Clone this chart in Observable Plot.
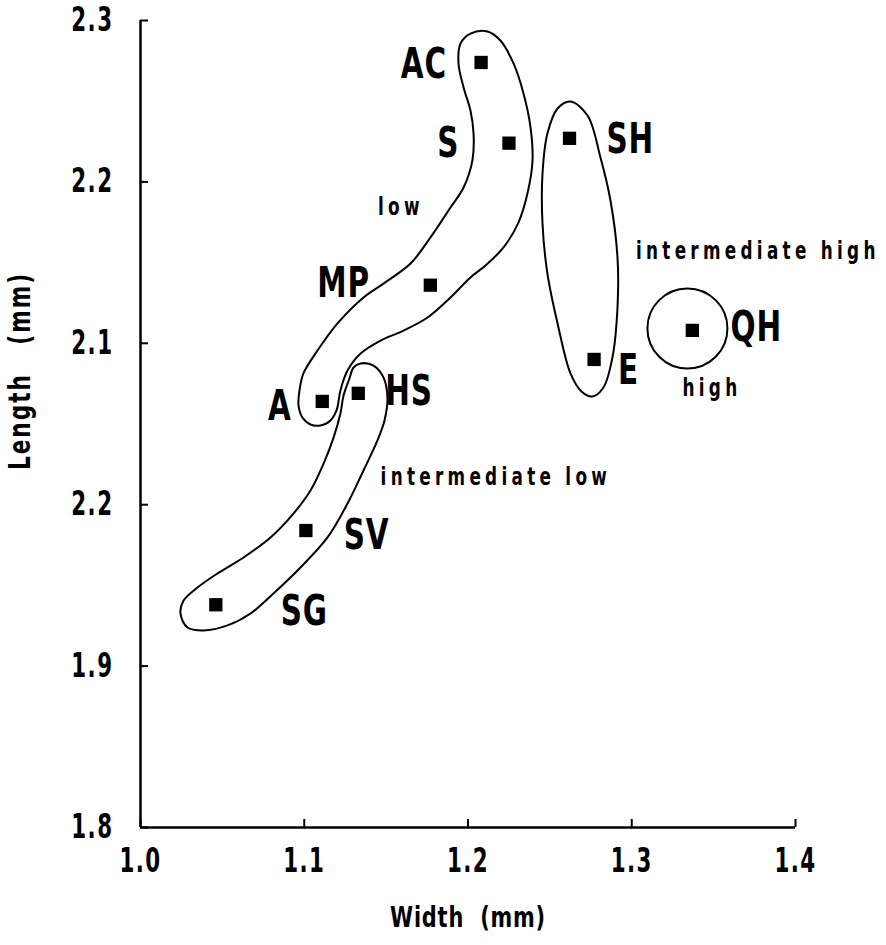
<!DOCTYPE html>
<html>
<head>
<meta charset="utf-8">
<script src="https://cdn.jsdelivr.net/npm/d3@7"></script>
<script src="https://cdn.jsdelivr.net/npm/@observablehq/plot@0.6"></script>
<style>
  html, body { margin: 0; padding: 0; background: #fff; }
</style>
</head>
<body>
<div id="chart"></div>
<script>
// ---- data ----
const sites = ["AC", "S", "SH", "MP", "QH", "E", "A", "HS", "SV", "SG"];
const widthMm = [1.208, 1.225, 1.262, 1.177, 1.337, 1.277, 1.111, 1.133, 1.101, 1.046];
const lengthMm = [2.274, 2.224, 2.227, 2.136, 2.108, 2.090, 2.064, 2.069, 1.984, 1.938];
const siteLabelX = [1.173, 1.188, 1.299, 1.124, 1.376, 1.298, 1.085, 1.164, 1.138, 1.100];
const siteLabelY = [2.273, 2.224, 2.226, 2.137, 2.110, 2.083, 2.061, 2.070, 1.981, 1.934];

const groupNames = ["low", "intermediate low", "intermediate high", "high"];
const groupLabelX = [1.159, 1.217, 1.377, 1.349];
const groupLabelY = [2.184, 2.017, 2.157, 2.072];

// hand-drawn group outlines, [width, length]
const lowOutline = [
  [1.2015, 2.2919], [1.2119, 2.2932], [1.2198, 2.2876], [1.2278, 2.2734], [1.2339, 2.2548],
  [1.2382, 2.2337], [1.2394, 2.2133], [1.2363, 2.1928], [1.2308, 2.1748], [1.2217, 2.1594],
  [1.2107, 2.1482], [1.2015, 2.1408], [1.1893, 2.1284], [1.1753, 2.1160], [1.1606, 2.1079],
  [1.1466, 2.1017], [1.1344, 2.0937], [1.1264, 2.0831], [1.1221, 2.0708], [1.1197, 2.0584],
  [1.1160, 2.0522], [1.1099, 2.0491], [1.1038, 2.0497], [1.0989, 2.0540], [1.0965, 2.0615],
  [1.0971, 2.0708], [1.0995, 2.0813], [1.1081, 2.0955], [1.1203, 2.1123], [1.1362, 2.1284],
  [1.1484, 2.1370], [1.1649, 2.1494], [1.1771, 2.1656], [1.1893, 2.1841], [1.1973, 2.1965],
  [1.2027, 2.2133], [1.2034, 2.2300], [1.2015, 2.2442], [1.1973, 2.2585], [1.1942, 2.2734],
  [1.1954, 2.2857]
];
const intLowOutline = [
  [1.1344, 2.0875], [1.1423, 2.0862], [1.1484, 2.0788], [1.1508, 2.0664], [1.1490, 2.0522],
  [1.1447, 2.0398], [1.1362, 2.0212], [1.1264, 2.0007], [1.1142, 1.9797], [1.0977, 1.9611],
  [1.0812, 1.9450], [1.0672, 1.9326], [1.0531, 1.9252], [1.0385, 1.9221], [1.0287, 1.9239],
  [1.0244, 1.9326], [1.0263, 1.9406], [1.0348, 1.9487], [1.0470, 1.9574], [1.0629, 1.9673],
  [1.0794, 1.9797], [1.0934, 1.9945], [1.1038, 2.0088], [1.1118, 2.0255], [1.1179, 2.0416],
  [1.1221, 2.0565], [1.1240, 2.0677], [1.1276, 2.0782], [1.1301, 2.0850]
];
const intHighOutline = [
  [1.2626, 2.2498], [1.2730, 2.2411], [1.2809, 2.2151], [1.2870, 2.1885], [1.2913, 2.1532],
  [1.2913, 2.1222], [1.2882, 2.0912], [1.2827, 2.0726], [1.2760, 2.0670], [1.2693, 2.0701],
  [1.2626, 2.0813], [1.2547, 2.1123], [1.2485, 2.1432], [1.2455, 2.1742], [1.2455, 2.2052],
  [1.2485, 2.2300], [1.2547, 2.2455]
];
const highCircleCenter = [[1.334, 2.1092]];

const xTicks = [1.0, 1.1, 1.2, 1.3, 1.4];
const xTickLabels = ["1.0", "1.1", "1.2", "1.3", "1.4"];
const yTicks = [1.8, 1.9, 2.0, 2.1, 2.2, 2.3];
const yTickLabels = ["1.8", "1.9", "2.2", "2.1", "2.2", "2.3"]; // as printed in the original

const xTitle = "Width  (mm)";
const yTitle = "Length   (mm)";

// ---- build ----
const points = sites.map((s, i) => ({site: s, w: widthMm[i], l: lengthMm[i], lx: siteLabelX[i], ly: siteLabelY[i]}));
const groups = groupNames.map((g, i) => ({name: g, x: groupLabelX[i], y: groupLabelY[i]}));
const fmtX = d => xTickLabels[xTicks.findIndex(t => Math.abs(t - d) < 1e-9)];
const fmtY = d => yTickLabels[yTicks.findIndex(t => Math.abs(t - d) < 1e-9)];

const FONT = "'Liberation Sans Narrow', 'DejaVu Sans Condensed', 'DejaVu Sans', sans-serif";

const chart = Plot.plot({
  width: 886,
  height: 945,
  marginLeft: 140,
  marginRight: 91,
  marginTop: 20,
  marginBottom: 118,
  x: {domain: [1.0, 1.4]},
  y: {domain: [1.8, 2.3]},
  style: {fontFamily: FONT, background: "white", color: "black", overflow: "visible"},
  marks: [
    Plot.ruleX([1.0], {y1: 1.8, y2: 2.3, strokeWidth: 2.5}),
    Plot.ruleY([1.8], {x1: 1.0, x2: 1.4, strokeWidth: 2.5}),
    Plot.axisX({ticks: xTicks, tickSize: -8, tickPadding: 29, tickFormat: fmtX, strokeWidth: 2,
      fontSize: 33, fontWeight: "bold", label: null}),
    Plot.axisY({ticks: yTicks, tickSize: -8, tickPadding: 35, tickFormat: fmtY, strokeWidth: 2,
      fontSize: 33, fontWeight: "bold", label: null}),
    Plot.line(lowOutline, {curve: "catmull-rom-closed", strokeWidth: 2}),
    Plot.line(intLowOutline, {curve: "catmull-rom-closed", strokeWidth: 2}),
    Plot.line(intHighOutline, {curve: "catmull-rom-closed", strokeWidth: 2}),
    Plot.dot(highCircleCenter, {r: 40, stroke: "black", strokeWidth: 2, fill: "none"}),
    Plot.dot(points, {x: "w", y: "l", symbol: "square", r: 7.5, fill: "black", stroke: "none"}),
    Plot.text(points, {x: "lx", y: "ly", text: "site", fontSize: 42, fontWeight: "bold",
      textAnchor: "middle", lineAnchor: "middle"}),
    Plot.text(groups, {x: "x", y: "y", text: "name", fontSize: 24, fontWeight: "bold",
      textAnchor: "middle", lineAnchor: "middle"}),
    Plot.text([xTitle], {frameAnchor: "bottom", dy: 90, fontSize: 29, fontWeight: "bold",
      textAnchor: "middle", lineAnchor: "middle"}),
    Plot.text([yTitle], {frameAnchor: "left", rotate: -90, dx: -120, dy: -53, fontSize: 30,
      fontWeight: "bold", textAnchor: "middle", lineAnchor: "middle"})
  ]
});

// imitate the condensed, letter-spaced typeface of the original:
// squeeze each text horizontally about its anchor point and add tracking
const tickSet = new Set([...xTickLabels, ...yTickLabels]);
function textStyle(s) {
  if (sites.includes(s)) return {k: 0.78, ls: 1};
  if (groupNames.includes(s)) return {k: 0.78, ls: 5.5};
  if (s === xTitle) return {k: 0.8, ls: 1};
  if (s === yTitle) return {k: 0.8, ls: 2.5};
  if (tickSet.has(s)) return {k: 0.72, ls: 2};
  return {k: 0.78, ls: 0};
}
chart.querySelectorAll("text").forEach(el => {
  const {k, ls} = textStyle(el.textContent);
  el.style.letterSpacing = ls + "px";
  const t = el.getAttribute("transform");
  if (t) {
    el.setAttribute("transform", t + ` scale(${k},1)`);
  } else {
    const x = +el.getAttribute("x") || 0, y = +el.getAttribute("y") || 0;
    el.setAttribute("transform", `translate(${x},${y}) scale(${k},1) translate(${-x},${-y})`);
  }
});

document.getElementById("chart").appendChild(chart);
</script>
</body>
</html>
